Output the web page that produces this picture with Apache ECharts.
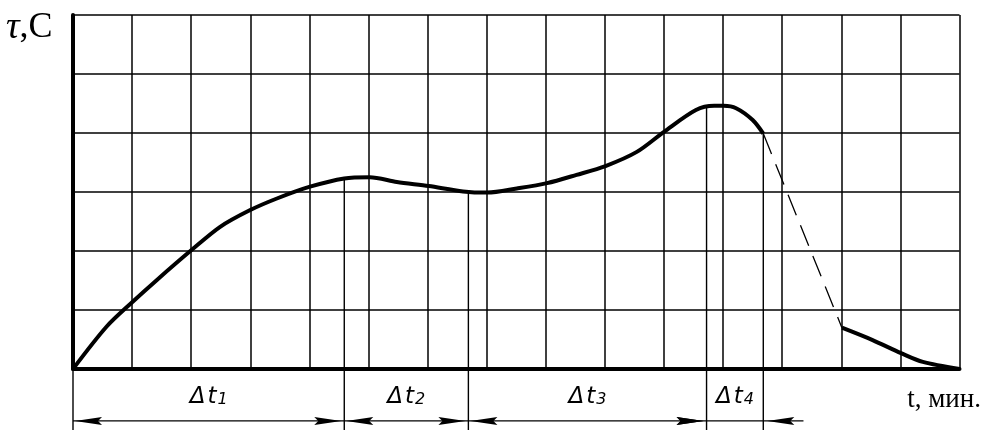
<!DOCTYPE html>
<html>
<head>
<meta charset="utf-8">
<script src="https://cdn.jsdelivr.net/npm/echarts@6/dist/echarts.min.js"></script>
<style>html,body{margin:0;padding:0;background:#fff}#c{width:986px;height:436px}</style>
</head>
<body>
<div id="c"></div>
<script>
// ---- data ----
const curve1X = [0, 0.57, 1.01, 1.42, 2.01, 2.49, 2.99, 3.45, 4.01, 4.59, 5.02, 5.48, 6.02, 6.60, 7.01, 7.51, 8.02, 8.52, 9.01, 9.54, 10.0, 10.54, 10.85, 11.01, 11.22, 11.50, 11.68];
const curve1Y = [0, 0.72, 1.14, 1.51, 2.02, 2.41, 2.69, 2.89, 3.09, 3.23, 3.25, 3.17, 3.10, 3.01, 2.99, 3.06, 3.15, 3.29, 3.44, 3.68, 4.02, 4.39, 4.46, 4.46, 4.42, 4.22, 3.99];
const dashX = [11.68, 13.01];
const dashY = [3.99, 0.70];
const curve2X = [13.01, 13.53, 14.01, 14.38, 15.0];
const curve2Y = [0.70, 0.49, 0.27, 0.12, 0.0];
const markerX = [0, 4.59, 6.69, 10.72, 11.68];
const markerTop = [0, 3.23, 3.01, 4.43, 3.99];
const dimStart = [0, 4.59, 6.69, 10.72];
const dimEnd = [4.59, 6.69, 10.72, 11.68];
const dimSub = ['1', '2', '3', '4'];
const dimOutside = [0, 0, 0, 1];
const yTitle = 'τ,C';
const xTitle = 't, мин.';

// layout constants (data units below the axis)
const EXT_BOTTOM = -1.034;
const DIM_Y = -0.88;
const LABEL_Y = -0.47;
const TAIL = 0.68;

const zip = (xs, ys) => xs.map((x, i) => [x, ys[i]]);

function arrow(tipX, y, dir) { // dir: -1 points left, +1 points right
  const L = 27, W = 4, N = 4;
  return {
    type: 'polygon',
    shape: { points: [[tipX, y], [tipX - dir * L, y - W], [tipX - dir * (L - N), y], [tipX - dir * L, y + W]] },
    style: { fill: '#000' }
  };
}

const chart = echarts.init(document.getElementById('c'), null, { renderer: 'canvas' });
chart.setOption({
  animation: false,
  backgroundColor: '#fff',
  grid: { left: 73, right: 26.5, top: 15, bottom: 67, containLabel: false },
  xAxis: {
    type: 'value', min: 0, max: 15, interval: 1,
    axisLine: { show: true, onZero: false, lineStyle: { color: '#000', width: 4 } },
    axisTick: { show: false }, axisLabel: { show: false },
    splitLine: { show: true, lineStyle: { color: '#000', width: 1.5 } }
  },
  yAxis: {
    type: 'value', min: 0, max: 6, interval: 1,
    axisLine: { show: true, onZero: false, lineStyle: { color: '#000', width: 4 } },
    axisTick: { show: false }, axisLabel: { show: false },
    splitLine: { show: true, lineStyle: { color: '#000', width: 1.5 } }
  },
  graphic: [
    { type: 'text', left: 6, top: 9, style: { text: '{i|τ},C', font: '36px "Liberation Serif"', fill: '#000',
      rich: { i: { fontStyle: 'italic', fontFamily: 'Liberation Serif', fontSize: 38 } } } },
    { type: 'text', right: 5, top: 386, style: { text: xTitle, font: '27px "Liberation Serif"', fill: '#000' } }
  ],
  series: [
    {
      type: 'custom', clip: false, z: 3,
      data: zip(markerX, markerTop),
      renderItem: (params, api) => {
        const p1 = api.coord([api.value(0), api.value(1)]);
        const p2 = api.coord([api.value(0), EXT_BOTTOM]);
        return { type: 'line', shape: { x1: p1[0], y1: p1[1], x2: p2[0], y2: p2[1] }, style: { stroke: '#000', lineWidth: 1.4 } };
      }
    },
    {
      type: 'custom', clip: false, z: 3,
      data: dimStart.map((s, i) => [s, dimEnd[i], i, dimOutside[i]]),
      renderItem: (params, api) => {
        const x0 = api.value(0), x1 = api.value(1), idx = api.value(2), out = api.value(3);
        const a = api.coord([x0, DIM_Y]), b = api.coord([x1, DIM_Y]);
        const y = a[1];
        const kids = [{ type: 'line', shape: { x1: a[0], y1: y, x2: b[0], y2: y }, style: { stroke: '#000', lineWidth: 1.3 } }];
        if (out) {
          const t = api.coord([x1 + TAIL, DIM_Y]);
          kids.push({ type: 'line', shape: { x1: b[0], y1: y, x2: t[0], y2: y }, style: { stroke: '#000', lineWidth: 1.3 } });
          kids.push(arrow(a[0] - 3, y, 1));
          kids.push(arrow(b[0] + 4, y, -1));
        } else {
          kids.push(arrow(a[0] + 2, y, -1));
          kids.push(arrow(b[0] - 3, y, 1));
        }
        const c = api.coord([(x0 + x1) / 2, LABEL_Y]);
        kids.push({
          type: 'text', x: c[0], y: c[1],
          style: {
            text: '{d|Δ}{t|t}{s|' + dimSub[idx] + '}', align: 'center', verticalAlign: 'middle', fill: '#000',
            rich: {
              d: { fontFamily: 'DejaVu Sans', fontStyle: 'italic', fontSize: 23, lineHeight: 22, verticalAlign: 'top', padding: [0, 2, 0, 0] },
              t: { fontFamily: 'DejaVu Sans', fontStyle: 'italic', fontSize: 23, lineHeight: 22, verticalAlign: 'top' },
              s: { fontFamily: 'DejaVu Sans', fontStyle: 'italic', fontSize: 16, lineHeight: 16, verticalAlign: 'bottom', padding: [10, 0, 0, 1] }
            }
          }
        });
        return { type: 'group', children: kids };
      }
    },
    {
      type: 'line', data: zip(curve1X, curve1Y), smooth: 0.3, showSymbol: false, z: 5,
      lineStyle: { color: '#000', width: 4 }
    },
    {
      type: 'line', data: zip(dashX, dashY), showSymbol: false, z: 5,
      lineStyle: { color: '#000', width: 1.3, type: [22, 11] }
    },
    {
      type: 'line', data: zip(curve2X, curve2Y), smooth: 0.3, showSymbol: false, z: 5,
      lineStyle: { color: '#000', width: 4 }
    }
  ]
});
</script>
</body>
</html>
